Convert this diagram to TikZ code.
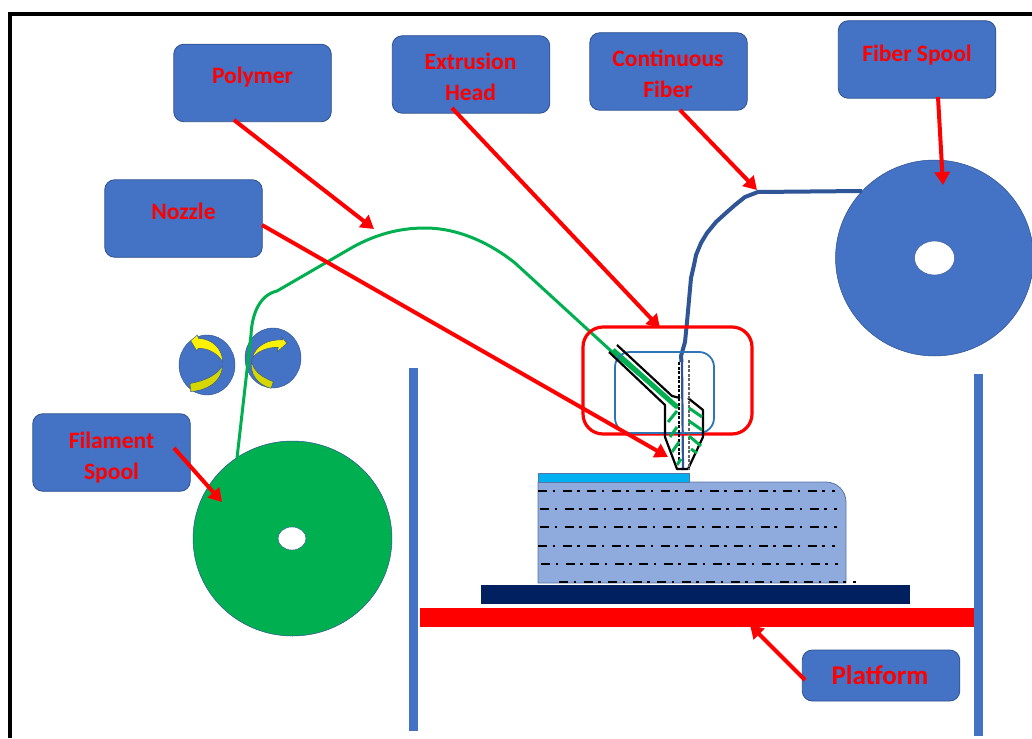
\documentclass[tikz,border=0pt]{standalone}
\usepackage{fontspec}
\setmainfont{Carlito}
\usetikzlibrary{arrows.meta}
\definecolor{boxblue}{HTML}{4472C4}
\definecolor{boxedge}{HTML}{2F528F}
\definecolor{spoolgreen}{HTML}{00B050}
\definecolor{fibreblue}{HTML}{2F5597}
\definecolor{partblue}{HTML}{8FAADC}
\definecolor{topblue}{HTML}{00B0F0}
\definecolor{navy}{HTML}{002060}
\definecolor{headblue}{HTML}{2E75B6}
\definecolor{darkyellow}{HTML}{D6D600}
\tikzset{
  labelbox/.style={draw=boxedge,line width=.8pt,fill=boxblue,rounded corners=10pt,inner sep=0pt,minimum width=157.5pt,minimum height=77.5pt},
  lbl/.style={text=red,font=\bfseries\fontsize{23.5}{31}\selectfont,align=center,inner sep=0pt},
  redarrow/.style={draw=red,line width=4pt,-{Triangle[length=13pt,width=15pt]}},
  blk/.style={black,line width=2.2pt,line join=round},
  gdash/.style={draw=spoolgreen,line width=3pt},
  layer/.style={black,line width=2pt,dash pattern=on 9pt off 5.5pt on 2.5pt off 7.5pt},
  yarrow/.style={fill=yellow,draw=boxedge,line width=.4pt},
  yband/.style={fill=darkyellow,draw=boxedge,line width=.4pt},
}
\begin{document}
\begin{tikzpicture}[x=1pt,y=-1pt]
\useasboundingbox (0,0) rectangle (1032,738);
\fill[white] (0,0) rectangle (1032,738);
% frame
\draw[black,line width=4pt] (10,738) -- (10,14) -- (1032,14);
% chamber
\fill[boxblue] (409,368) rectangle (417.5,731);
\fill[boxblue] (974,374) rectangle (982.5,736);
\fill[red] (420,608) rectangle (974,627);
\fill[navy] (481,585) rectangle (910,604);
% part
\draw[fill=partblue,draw=boxedge!80,line width=.8pt] (538,482) -- (826,482) arc[start angle=-90,end angle=0,radius=20] -- (846,583) -- (538,583) -- cycle;
\draw[fill=topblue,draw=boxedge!80,line width=.6pt] (538,473) rectangle (689,482);
\draw[layer] (538,490.5) -- (835,490.5);
\draw[layer] (540,509) -- (837,509);
\draw[layer] (540,527) -- (837,527);
\draw[layer] (538,545.5) -- (835,545.5);
\draw[layer] (541,563.5) -- (838,563.5);
\draw[layer] (559,581.5) -- (856,581.5);
% spools
\node[draw=boxedge,line width=.5pt,fill=spoolgreen,circle,minimum size=195pt,inner sep=0pt,xscale=1.02] (fspool) at (292.5,538.5) {};
\fill[white,draw=boxedge,line width=.4pt] (292,538.5) ellipse[x radius=14,y radius=11.5];
\node[draw=boxedge,line width=.5pt,fill=boxblue,circle,minimum size=196pt,inner sep=0pt,xscale=1.01] (bspool) at (934.5,258) {};
\fill[white,draw=boxedge,line width=.4pt] (934.5,258) ellipse[x radius=20,y radius=17];
% rollers
\fill[boxblue,draw=boxedge,line width=.4pt] (207,365) ellipse[x radius=28,y radius=30];
\fill[boxblue,draw=boxedge,line width=.4pt] (273,358) ellipse[x radius=28,y radius=30];
\draw[yarrow] (190.7,340.7) -- (197.3,335) -- (198.3,338.3) .. controls (212,339) and (222,348) .. (222.7,361.7) .. controls (218,354) and (209,348) .. (198.3,348.3) -- (196.7,350.7) -- cycle;
\draw[yband] (222.5,366) .. controls (216,376) and (204,381) .. (190,383.5) -- (190.7,391.7) .. controls (207,390) and (221,383) .. cycle;
\draw[yarrow] (286.7,343.3) -- (281.7,336.7) -- (282.7,340) .. controls (268,339) and (255,346) .. (252.3,358.3) .. controls (257,351) and (268,347) .. (278.3,347.3) -- (277.3,351.7) -- cycle;
\draw[yband] (251.7,360) .. controls (252,370) and (261,377) .. (273.3,381.7) -- (271,388.3) .. controls (258,385) and (249,374) .. cycle;
% filament
\coordinate (filstart) at (237,458);
\coordinate (nozzlein) at (678,408);
\draw[draw=spoolgreen,line width=3pt,line join=round] (filstart) -- (251,335) .. controls (252,313) and (260,295) .. (277,291) -- (353,247) .. controls (375,235) and (398,228) .. (425,228) .. controls (458,228) and (490,243) .. (515,263) -- (610,350) -- (nozzlein);
\draw[spoolgreen,line width=5pt] (613,350) -- (677,407);
% fibre
\coordinate (fibstart) at (862,191);
\coordinate (fibend) at (683,470);
\draw[draw=fibreblue,line width=4pt,line join=round] (fibstart) -- (758,192) -- (745,197) -- (735,205) -- (727,212) -- (716,222) -- (707,233) -- (701,243) -- (696,255) -- (694,265) -- (691,278) -- (689,300) -- (687,322) -- (685,342) -- (681,356) -- (681.5,362);
\draw[draw=fibreblue,line width=2.2pt] (682,362) -- (fibend);
% head boxes
\node[draw=red,line width=3.2pt,rounded corners=20pt,minimum width=169pt,minimum height=107pt,inner sep=0pt] (extbox) at (667.5,380.5) {};
\node[draw=headblue,line width=1.8pt,rounded corners=15pt,minimum width=99pt,minimum height=81pt,inner sep=0pt] (innerbox) at (664.5,392.5) {};
% nozzle
\draw[blk] (617,345) -- (672,396) -- (680,398);
\draw[blk] (609,352) -- (665,405) -- (665,437) -- (677,469) -- (688,469) -- (703,437) -- (703,410) -- (688,398);
\draw[black,line width=1.1pt,dash pattern=on 3pt off 1.5pt] (679,362) -- (679,460);
\draw[black!60,line width=1.1pt,dash pattern=on 3pt off 1.5pt] (689,360) -- (689,470);
\foreach \a/\b/\c/\d in {677/411/668/422, 677/427/670/437, 679/442/672/452, 681/459/677/465,
  689/408/702/417, 689/421/702/430, 689/436/701/446, 691/449/697/453}
  \draw[gdash] (\a,\b) -- (\c,\d);
% label boxes
\node[labelbox] (polymer) at (252.5,83) {};
\node[lbl] (tpolymer) at (252.5,77) {Polymer};
\node[labelbox] (head) at (471,74.5) {};
\node[lbl] (thead) at (470.5,76.5) {Extrusion\\Head};
\node[labelbox] (fiber) at (668.5,71.5) {};
\node[lbl] (tfiber) at (668,73.5) {Continuous\\Fiber};
\node[labelbox] (spool) at (917,59.5) {};
\node[lbl] (tspool) at (917,55) {Fiber Spool};
\node[labelbox] (nozzle) at (183.5,218.5) {};
\node[lbl] (tnozzle) at (183.5,211) {Nozzle};
\node[labelbox] (filament) at (111.5,452.5) {};
\node[lbl] (tfilament) at (111.5,457.5) {Filament\\Spool};
\node[labelbox,minimum height=51pt] (platform) at (881,675.5) {};
\node[lbl,font=\bfseries\fontsize{27}{31}\selectfont] (tplatform) at (880,675.5) {Platform};
% pointers
\coordinate (a1) at (234,120); \coordinate (b1) at (374,229);
\coordinate (a2) at (452,108); \coordinate (b2) at (660,328);
\coordinate (a3) at (680,110); \coordinate (b3) at (757,190);
\coordinate (a4) at (938,97);  \coordinate (b4) at (943,185);
\coordinate (a5) at (262,225); \coordinate (b5) at (668,457);
\coordinate (a6) at (174,448); \coordinate (b6) at (222,502);
\coordinate (a7) at (805,680); \coordinate (b7) at (750,625);
\foreach \i in {1,...,7} \draw[redarrow] (a\i) -- (b\i);
\end{tikzpicture}
\end{document}
